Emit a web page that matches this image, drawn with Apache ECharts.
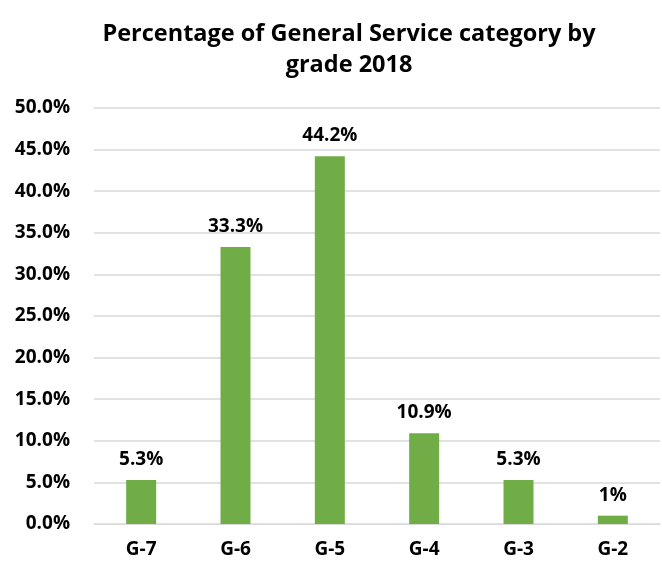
<!DOCTYPE html>
<html><head><meta charset="utf-8">
<script src="https://cdn.jsdelivr.net/npm/echarts@6/dist/echarts.min.js"></script>
<style>html,body{margin:0;padding:0;background:#fff}#c{width:662px;height:566px}</style>
</head><body><div id="c"></div>
<script>
const categories = ["G-7","G-6","G-5","G-4","G-3","G-2"];
const values = [5.3, 33.3, 44.2, 10.9, 5.3, 1.0];
const valueLabels = ["5.3%","33.3%","44.2%","10.9%","5.3%","1%"];
const yTicks = [0,5,10,15,20,25,30,35,40,45,50];
const titleText = "Percentage of General Service category by\ngrade 2018";

const font = "'Open Sans', 'Liberation Sans', sans-serif";
const chart = echarts.init(document.getElementById('c'));
chart.setOption({
  animation:false,
  title:{text:titleText,left:344,textAlign:'center',top:14,
    textStyle:{fontFamily:font,fontWeight:'bold',fontSize:23.5,lineHeight:31,color:'#000'}},
  grid:{left:94,right:2,top:108,bottom:42},
  xAxis:{type:'category',data:categories,
    axisLine:{lineStyle:{color:'#d9d9d9',width:1}},axisTick:{show:false},
    axisLabel:{fontFamily:font,fontWeight:'bold',fontSize:19,color:'#000',margin:16}},
  yAxis:{type:'value',min:yTicks[0],max:yTicks[yTicks.length-1],interval:5,
    axisLine:{show:false},axisTick:{show:false},
    splitLine:{lineStyle:{color:'#d9d9d9',width:1.5}},
    axisLabel:{fontFamily:font,fontWeight:'bold',fontSize:19,color:'#000',margin:24,
      formatter:v=>v.toFixed(1)+'%'}},
  series:[{type:'bar',data:values,barWidth:30,
    itemStyle:{color:'#70AD47'},
    label:{show:true,position:'top',distance:11,fontFamily:font,fontWeight:'bold',fontSize:19,color:'#000',
      formatter:p=>valueLabels[p.dataIndex]}}]
});
</script></body></html>
